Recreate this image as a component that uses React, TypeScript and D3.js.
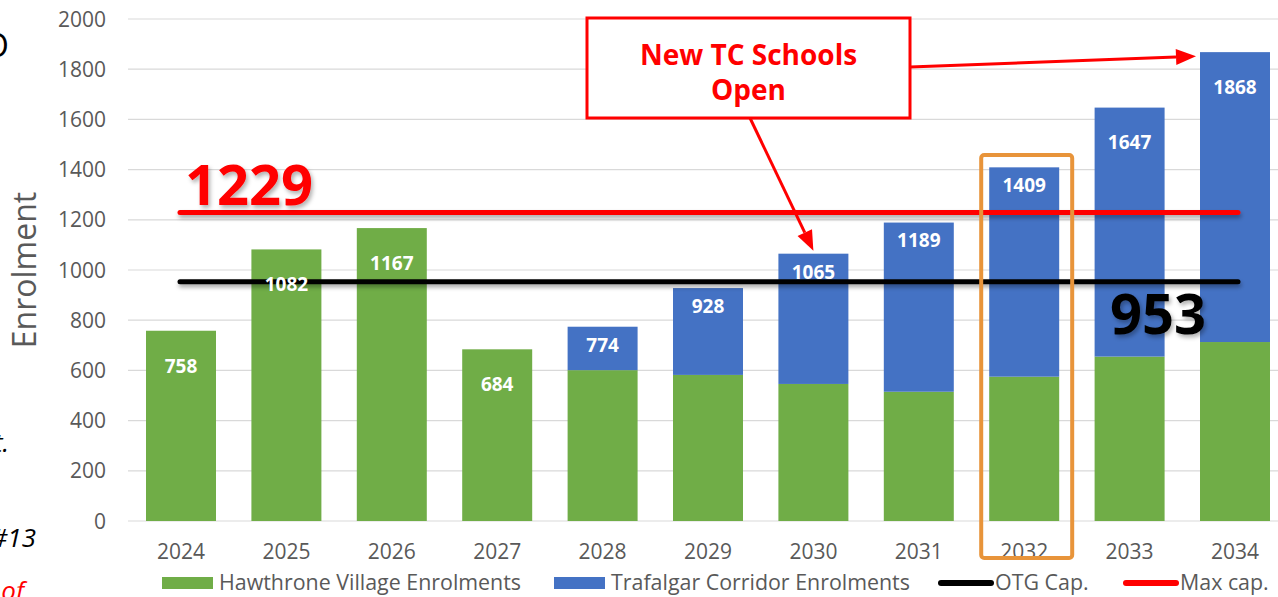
import React, { useRef, useEffect } from "react";
import * as d3 from "d3";

// values
const years = ["2024", "2025", "2026", "2027", "2028", "2029", "2030", "2031", "2032", "2033", "2034"];
const hawthrone = [758, 1082, 1167, 684, 601, 582, 546, 515, 575, 655, 713];
const trafalgar = [0, 0, 0, 0, 173, 346, 519, 674, 834, 992, 1155];
const yTicks = [0, 200, 400, 600, 800, 1000, 1200, 1400, 1600, 1800, 2000];
const otgCap = 953;
const maxCap = 1229;
const legendItems = [
  { label: "Hawthrone Village Enrolments", kind: "rect", color: "#70AD47" },
  { label: "Trafalgar Corridor Enrolments", kind: "rect", color: "#4472C4" },
  { label: "OTG Cap.", kind: "line", color: "#000000" },
  { label: "Max cap.", kind: "line", color: "#FF0000" },
];
const calloutLines = ["New TC Schools", "Open"];
const highlightYear = "2032";

const FONT = "'Open Sans', 'DejaVu Sans', sans-serif";

const App = () => {
  const svgRef = useRef(null);

  useEffect(() => {
    const svg = d3.select(svgRef.current);
    svg.selectAll("*").remove();

    const defs = svg.append("defs");
    const shadow = defs.append("filter").attr("id", "lineShadow")
      .attr("filterUnits", "userSpaceOnUse")
      .attr("x", 0).attr("y", 0).attr("width", 1278).attr("height", 597);
    shadow.append("feDropShadow").attr("dx", 1).attr("dy", 3).attr("stdDeviation", 2)
      .attr("flood-color", "#000").attr("flood-opacity", 0.35);
    const tshadow = defs.append("filter").attr("id", "textShadow")
      .attr("filterUnits", "userSpaceOnUse")
      .attr("x", 0).attr("y", 0).attr("width", 1278).attr("height", 597);
    tshadow.append("feDropShadow").attr("dx", 2).attr("dy", 3).attr("stdDeviation", 2)
      .attr("flood-color", "#000").attr("flood-opacity", 0.3);

    const x = d3.scaleBand().domain(years).range([128.3, 1287.7])
      .paddingInner(0.336).paddingOuter(0.168);
    const y = d3.scaleLinear().domain([0, 2000]).range([521, 19]);
    const bw = x.bandwidth();

    // gridlines
    svg.append("g").selectAll("line").data(yTicks).join("line")
      .attr("x1", 128).attr("x2", 1278)
      .attr("y1", d => y(d)).attr("y2", d => y(d))
      .attr("stroke", "#D9D9D9").attr("stroke-width", 1.2);

    // y tick labels
    svg.append("g").selectAll("text").data(yTicks).join("text")
      .attr("x", 106).attr("y", d => y(d)).attr("dy", "0.36em")
      .attr("text-anchor", "end").attr("font-family", FONT).attr("font-size", 21)
      .attr("fill", "#595959").text(d => d);

    // axis title
    svg.append("text")
      .attr("transform", "translate(36,270) rotate(-90)")
      .attr("text-anchor", "middle").attr("font-family", FONT).attr("font-size", 32)
      .attr("fill", "#595959").text("Enrolment");

    // x labels
    svg.append("g").selectAll("text").data(years).join("text")
      .attr("x", d => x(d) + bw / 2).attr("y", 559)
      .attr("text-anchor", "middle").attr("font-family", FONT).attr("font-size", 21)
      .attr("fill", "#595959").text(d => d);

    // stacked bars
    const rows = years.map((yr, i) => ({ yr, g: hawthrone[i], b: trafalgar[i], total: hawthrone[i] + trafalgar[i] }));
    svg.append("g").selectAll("rect").data(rows).join("rect")
      .attr("x", d => x(d.yr)).attr("width", bw)
      .attr("y", d => y(d.g)).attr("height", d => y(0) - y(d.g))
      .attr("fill", "#70AD47");
    svg.append("g").selectAll("rect").data(rows.filter(d => d.b > 0)).join("rect")
      .attr("x", d => x(d.yr)).attr("width", bw)
      .attr("y", d => y(d.total)).attr("height", d => y(d.g) - y(d.total))
      .attr("fill", "#4472C4");

    // capacity lines
    const lx1 = x(years[0]) + bw / 2 - 1;
    const lx2 = x(years[years.length - 1]) + bw / 2 + 3;
    svg.append("line").attr("x1", lx1).attr("x2", lx2)
      .attr("y1", y(maxCap)).attr("y2", y(maxCap))
      .attr("stroke", "#FF0000").attr("stroke-width", 5).attr("stroke-linecap", "round")
      .attr("filter", "url(#lineShadow)");
    svg.append("line").attr("x1", lx1).attr("x2", lx2)
      .attr("y1", y(otgCap)).attr("y2", y(otgCap))
      .attr("stroke", "#000").attr("stroke-width", 5).attr("stroke-linecap", "round")
      .attr("filter", "url(#lineShadow)");

    // totals, drawn over the lines
    const deep = new Set(["2024", "2025", "2026", "2027", "2033", "2034"]);
    svg.append("g").selectAll("text").data(rows).join("text")
      .attr("x", d => x(d.yr) + bw / 2)
      .attr("y", d => y(d.total) + (deep.has(d.yr) ? 35 : 18)).attr("dy", "0.36em")
      .attr("text-anchor", "middle").attr("font-family", FONT).attr("font-size", 19)
      .attr("font-weight", 700).attr("fill", "#fff").text(d => d.total);

    svg.append("text").attr("x", 185).attr("y", y(maxCap) - 8)
      .attr("font-family", FONT).attr("font-size", 56).attr("font-weight", 700)
      .attr("fill", "#FF0000").attr("filter", "url(#textShadow)").text(maxCap);
    svg.append("text").attr("x", 1110).attr("y", y(otgCap) + 52)
      .attr("font-family", FONT).attr("font-size", 56).attr("font-weight", 700)
      .attr("fill", "#000").attr("filter", "url(#textShadow)").text(otgCap);

    // highlight box around 2032
    svg.append("rect")
      .attr("x", x(highlightYear) - 8).attr("y", 155)
      .attr("width", bw + 21).attr("height", 403)
      .attr("rx", 3).attr("fill", "none").attr("stroke", "#E8943A").attr("stroke-width", 4);

    // callout box
    const box = { x0: 587, y0: 18, x1: 910, y1: 118 };
    svg.append("rect").attr("x", box.x0).attr("y", box.y0)
      .attr("width", box.x1 - box.x0).attr("height", box.y1 - box.y0)
      .attr("fill", "#fff").attr("stroke", "#FF0000").attr("stroke-width", 3);
    svg.append("g").selectAll("text").data(calloutLines).join("text")
      .attr("x", (box.x0 + box.x1) / 2).attr("y", (d, i) => 65 + i * 35)
      .attr("text-anchor", "middle").attr("font-family", FONT).attr("font-size", 28)
      .attr("font-weight", 700).attr("fill", "#FF0000").text(d => d);

    const arrow = (fx, fy, tx, ty) => {
      const ang = Math.atan2(ty - fy, tx - fx);
      const len = 20, hw = 8;
      const bx = tx - len * Math.cos(ang), by = ty - len * Math.sin(ang);
      svg.append("line").attr("x1", fx).attr("y1", fy).attr("x2", bx).attr("y2", by)
        .attr("stroke", "#FF0000").attr("stroke-width", 3);
      const pts = [
        [tx, ty],
        [bx + hw * Math.sin(ang), by - hw * Math.cos(ang)],
        [bx - hw * Math.sin(ang), by + hw * Math.cos(ang)],
      ];
      svg.append("polygon").attr("points", pts.map(p => p.join(",")).join(" "))
        .attr("fill", "#FF0000");
    };
    arrow(750, box.y1, x("2030") + bw / 2, y(hawthrone[6] + trafalgar[6]) - 3);
    arrow(box.x1, 67, x("2034") - 4, y(hawthrone[10] + trafalgar[10]) + 4);

    // legend
    const lg = svg.append("g").attr("font-family", FONT).attr("font-size", 21.4).attr("fill", "#595959");
    const legendX = [162, 554, 938, 1123];
    legendItems.forEach((it, i) => {
      const lx = legendX[i];
      if (it.kind === "rect") {
        lg.append("rect").attr("x", lx).attr("y", 577).attr("width", 51).attr("height", 12).attr("fill", it.color);
        lg.append("text").attr("x", lx + 57).attr("y", 590).text(it.label);
      } else {
        lg.append("line").attr("x1", lx + 3).attr("x2", lx + 53).attr("y1", 583).attr("y2", 583)
          .attr("stroke", it.color).attr("stroke-width", 6).attr("stroke-linecap", "round");
        lg.append("text").attr("x", lx + 57).attr("y", 590).text(it.label);
      }
    });

    // cut-off slide text at the left edge (cropped in the original too)
    const frag = svg.append("g").attr("font-family", FONT).attr("font-style", "italic");
    frag.append("text").attr("x", 9).attr("y", 57).attr("text-anchor", "end")
      .attr("font-size", 33).attr("font-style", "normal").attr("fill", "#000").text("O");
    frag.append("text").attr("x", 9).attr("y", 452).attr("text-anchor", "end")
      .attr("font-size", 26).attr("fill", "#000").text("t.");
    frag.append("text").attr("x", 36).attr("y", 547).attr("text-anchor", "end")
      .attr("font-size", 26).attr("fill", "#000").text("#13");
    frag.append("text").attr("x", 24).attr("y", 600).attr("text-anchor", "end")
      .attr("font-size", 26).attr("fill", "#FF0000").text("of");
  }, []);

  return (
    <svg ref={svgRef} width={1278} height={597}
      style={{ position: "absolute", left: 0, top: 0, background: "#fff" }} />
  );
};

export default App;
